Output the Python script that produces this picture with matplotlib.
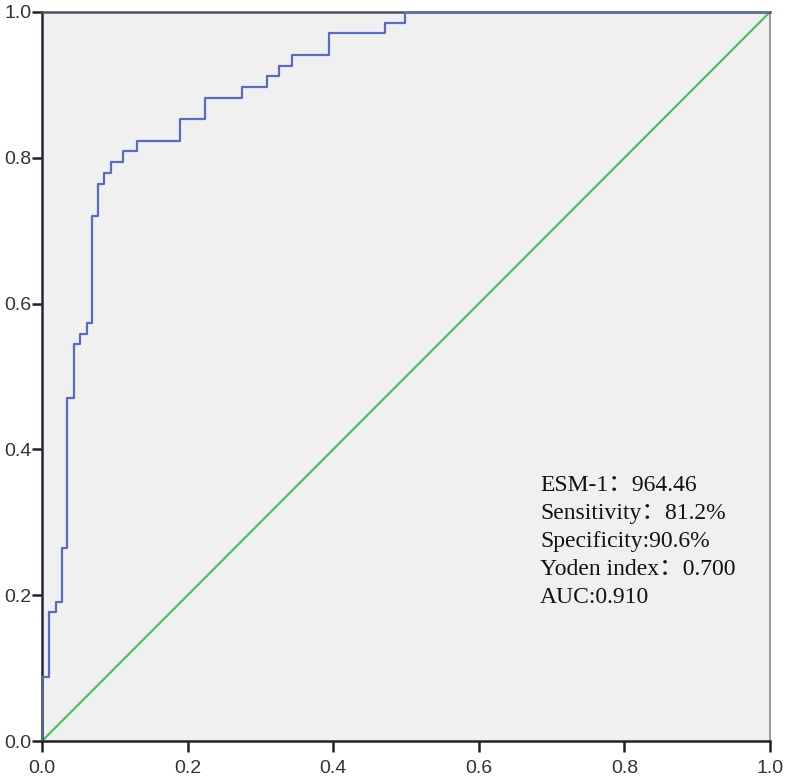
import matplotlib
matplotlib.use("Agg")
import matplotlib.pyplot as plt

# ROC curve vertices (false positive rate, true positive rate), drawn as steps
fpr = [0.0, 0.0, 0.0096, 0.0188, 0.0277, 0.0348, 0.0440, 0.0522, 0.0614, 0.0691,
       0.0774, 0.0852, 0.0948, 0.1117, 0.1300, 0.1896, 0.2239, 0.2752, 0.3095,
       0.3260, 0.3439, 0.3947, 0.4712, 0.4986, 1.0]
tpr = [0.0, 0.0882, 0.1765, 0.1912, 0.2647, 0.4706, 0.5441, 0.5588, 0.5735, 0.7206,
       0.7647, 0.7794, 0.7941, 0.8088, 0.8235, 0.8529, 0.8824, 0.8971, 0.9118,
       0.9265, 0.9412, 0.9706, 0.9853, 1.0, 1.0]
ref_line = [0.0, 1.0]

tick_values = [0.0, 0.2, 0.4, 0.6, 0.8, 1.0]
tick_labels = ["0.0", "0.2", "0.4", "0.6", "0.8", "1.0"]

annotation_lines = ["ESM-1：964.46", "Sensitivity：81.2%", "Specificity:90.6%",
                    "Yoden index：0.700", "AUC:0.910"]

fig = plt.figure(figsize=(7.87, 7.77), dpi=100)
ax = fig.add_axes([42/787, 36/777, 728/787, 729/777])
ax.set_facecolor("#f0f0f0")

ax.plot(ref_line, ref_line, color="#4cc35a", lw=1.6, zorder=2)
ax.plot(fpr, tpr, drawstyle="steps-post", color="#5a6cc0", lw=1.6, zorder=3)

ax.set_xlim(0, 1)
ax.set_ylim(0, 1)
ax.set_xticks(tick_values)
ax.set_xticklabels(tick_labels)
ax.set_yticks(tick_values)
ax.set_yticklabels(tick_labels)

ax.spines["left"].set_color("#252838")
ax.spines["left"].set_linewidth(1.8)
ax.spines["bottom"].set_color("#222222")
ax.spines["bottom"].set_linewidth(1.8)
ax.spines["top"].set_color("#4a5060")
ax.spines["top"].set_linewidth(1.8)
ax.spines["right"].set_color("#8a8a8a")
ax.spines["right"].set_linewidth(1.2)

ax.tick_params(axis="x", direction="out", length=8, width=1.8, color="#222222",
               labelsize=14, pad=5.5, labelcolor="#333333")
ax.tick_params(axis="y", direction="out", length=7, width=1.8, color="#222222",
               labelsize=14, pad=0.3, labelcolor="#333333")
for lab in ax.get_xticklabels() + ax.get_yticklabels():
    lab.set_fontfamily("Liberation Sans")

for i, line in enumerate(annotation_lines):
    ax.text(0.684, 0.351 - i * 0.0386, line, transform=ax.transAxes,
            fontsize=17, color="#111111", va="center", ha="left",
            family=["Liberation Serif", "Noto Sans CJK SC"])

fig.savefig("out.png", dpi=100, facecolor="white")
